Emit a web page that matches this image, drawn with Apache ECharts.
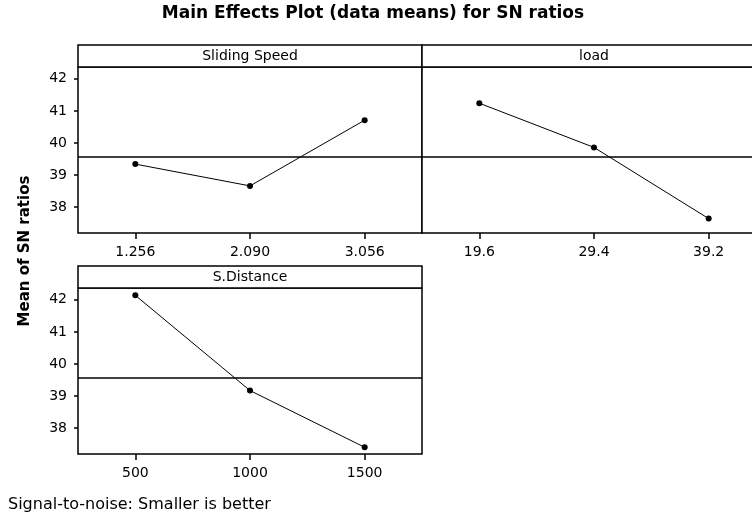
<!DOCTYPE html>
<html>
<head>
<meta charset="utf-8">
<script src="https://cdn.jsdelivr.net/npm/echarts@6/dist/echarts.min.js"></script>
<style>
html,body{margin:0;padding:0;background:#fff;overflow:hidden;width:752px;height:516px;}
#c{width:770px;height:516px;}
</style>
</head>
<body>
<div id="c"></div>
<script>
// ---- data ----
var panelTitles = ['Sliding Speed', 'load', 'S.Distance'];
var speedCats = ['1.256', '2.090', '3.056'];
var speedSN = [39.34, 38.66, 40.71];
var loadCats = ['19.6', '29.4', '39.2'];
var loadSN = [41.24, 39.86, 37.64];
var distCats = ['500', '1000', '1500'];
var distSN = [42.14, 39.17, 37.40];
var yTicks = [38, 39, 40, 41, 42];
var yMin = 37.19, yMax = 42.37;

// ---- layout ----
var FONT = '"DejaVu Sans", Verdana, sans-serif';
var panels = [
  {left: 78, top: 67, cats: speedCats, vals: speedSN, title: panelTitles[0], showY: true},
  {left: 422, top: 67, cats: loadCats, vals: loadSN, title: panelTitles[1], showY: false},
  {left: 78, top: 288, cats: distCats, vals: distSN, title: panelTitles[2], showY: true}
];
var PW = 344, PH = 166, STRIP = 22;

var all = speedSN.concat(loadSN, distSN);
var grandMean = all.reduce(function(a, b){return a + b;}, 0) / all.length;

var grids = [], xAxes = [], yAxes = [], series = [], graphics = [];
panels.forEach(function(p, i){
  grids.push({left: p.left, top: p.top, width: PW, height: PH, show: true,
    borderColor: '#000', borderWidth: 1.5, backgroundColor: '#fff', containLabel: false});
  xAxes.push({type: 'category', gridIndex: i, data: p.cats, boundaryGap: true,
    axisLine: {show: false},
    axisTick: {show: true, alignWithLabel: true, length: 6, lineStyle: {color: '#000', width: 1.5}},
    axisLabel: {color: '#000', fontFamily: FONT, fontSize: 14, margin: 12},
    splitLine: {show: false}});
  yAxes.push({type: 'value', gridIndex: i, min: yMin, max: yMax,
    axisLine: {show: false},
    axisTick: {show: p.showY, length: 4, customValues: yTicks, lineStyle: {color: '#000', width: 1.5}},
    axisLabel: {show: p.showY, customValues: yTicks, color: '#000', fontFamily: FONT, fontSize: 14, margin: 11},
    splitLine: {show: false}});
  series.push({type: 'line', xAxisIndex: i, yAxisIndex: i, data: p.vals,
    symbol: 'circle', symbolSize: 6, itemStyle: {color: '#000'},
    lineStyle: {color: '#000', width: 1}, silent: true, animation: false,
    markLine: {silent: true, symbol: ['none', 'none'], label: {show: false},
      lineStyle: {color: '#000', width: 1.5, type: 'solid'},
      data: [{yAxis: grandMean}]}});
  graphics.push({type: 'rect', shape: {x: p.left, y: p.top - STRIP, width: PW, height: STRIP},
    style: {fill: '#fff', stroke: '#000', lineWidth: 1.5}, z: 10});
  graphics.push({type: 'text', x: p.left + PW / 2, y: p.top - STRIP / 2,
    style: {text: p.title, fill: '#000', font: '14px ' + FONT, textAlign: 'center', textVerticalAlign: 'middle'}, z: 11});
});

graphics.push({type: 'text', x: 373, y: 14,
  style: {text: 'Main Effects Plot (data means) for SN ratios', fill: '#000',
    font: 'bold 17px ' + FONT, textAlign: 'center', textVerticalAlign: 'middle'}});
graphics.push({type: 'text', x: 25, y: 251, rotation: Math.PI / 2,
  style: {text: 'Mean of SN ratios', fill: '#000',
    font: 'bold 15px ' + FONT, textAlign: 'center', textVerticalAlign: 'middle'}});
graphics.push({type: 'text', x: 8, y: 505,
  style: {text: 'Signal-to-noise: Smaller is better', fill: '#000',
    font: '16px ' + FONT, textAlign: 'left', textVerticalAlign: 'middle'}});

var chart = echarts.init(document.getElementById('c'), null, {renderer: 'canvas'});
chart.setOption({
  backgroundColor: '#fff',
  animation: false,
  grid: grids,
  xAxis: xAxes,
  yAxis: yAxes,
  series: series,
  graphic: graphics
});
</script>
</body>
</html>
